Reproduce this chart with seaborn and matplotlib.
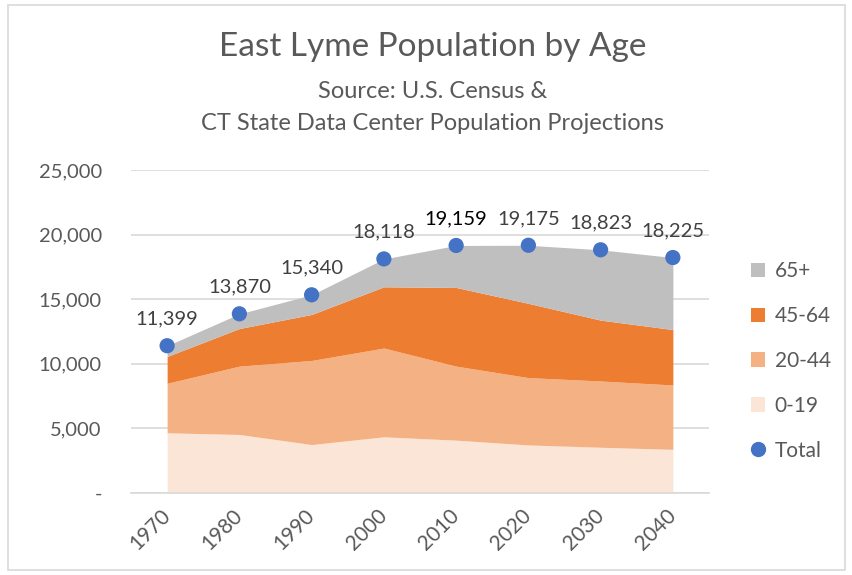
import matplotlib
matplotlib.use("Agg")
import matplotlib.pyplot as plt
import seaborn as sns
import pandas as pd
from matplotlib.patches import Patch, Rectangle
from matplotlib.lines import Line2D

years = ["1970", "1980", "1990", "2000", "2010", "2020", "2030", "2040"]
age_0_19 = [4660, 4530, 3750, 4350, 4090, 3720, 3540, 3380]
age_20_44 = [3830, 5290, 6510, 6870, 5730, 5210, 5130, 4980]
age_45_64 = [2080, 2910, 3560, 4740, 6090, 5750, 4710, 4290]
totals = [11399, 13870, 15340, 18118, 19159, 19175, 18823, 18225]
age_65_plus = [t - a - b - c for t, a, b, c in zip(totals, age_0_19, age_20_44, age_45_64)]
yticks = [0, 5000, 10000, 15000, 20000, 25000]
ytick_labels = ["-", "5,000", "10,000", "15,000", "20,000", "25,000"]
series_names = ["0-19", "20-44", "45-64", "65+"]
colors = ["#FBE5D6", "#F4B183", "#ED7D31", "#BFBFBF"]

sns.set_theme(style="white")
plt.rcParams['font.family'] = ['Lato', 'DejaVu Sans']

fig = plt.figure(figsize=(8.53, 5.75), dpi=100)
ax = fig.add_axes([131/853, (575-493)/575, (709-131)/853, (493-170)/575])

x = list(range(len(years)))
ax.stackplot(x, age_0_19, age_20_44, age_45_64, age_65_plus, colors=colors, linewidth=0)

df = pd.DataFrame({"x": x, "total": totals})
sns.scatterplot(data=df, x="x", y="total", ax=ax, color="#4472C4", s=120,
                edgecolor="none", zorder=5, legend=False)

for i, t in enumerate(totals):
    ax.annotate(f"{t:,}", (i, t), xytext=(0, 13), textcoords="offset points",
                ha="center", va="bottom", fontsize=14.5,
                color="#000000" if t == 19159 else "#404040")

ax.set_xlim(-0.5, 7.5)
ax.set_ylim(0, 25000)
ax.set_yticks(yticks)
ax.set_yticklabels(ytick_labels, fontsize=14.5, color="#595959")
ax.set_xticks(x)
ax.set_xticklabels(years, rotation=45, fontsize=15, color="#595959",
                   ha="right", va="center", rotation_mode="anchor")
ax.tick_params(axis="y", length=0, pad=21)
ax.tick_params(axis="x", length=0, pad=14)
ax.set_xlabel("")
ax.set_ylabel("")
ax.yaxis.grid(True, color="#D9D9D9", linewidth=1.2)
ax.set_axisbelow(True)
for s in ["top", "right", "left"]:
    ax.spines[s].set_visible(False)
ax.spines["bottom"].set_color("#D9D9D9")
ax.spines["bottom"].set_linewidth(1.2)

fig.text(433/853, 1 - 47/575, "East Lyme Population by Age", ha="center", va="center",
         fontsize=24, color="#595959")
fig.text(433/853, 1 - 91/575, "Source: U.S. Census &", ha="center", va="center",
         fontsize=17, color="#595959")
fig.text(433/853, 1 - 123/575, "CT State Data Center Population Projections", ha="center",
         va="center", fontsize=17, color="#595959")

handles = [Patch(facecolor=colors[3], edgecolor="none"),
           Patch(facecolor=colors[2], edgecolor="none"),
           Patch(facecolor=colors[1], edgecolor="none"),
           Patch(facecolor=colors[0], edgecolor="none"),
           Line2D([], [], marker="o", linestyle="none", color="#4472C4", markersize=10)]
labels = ["65+", "45-64", "20-44", "0-19", "Total"]
leg = fig.legend(handles, labels, loc="center left", bbox_to_anchor=(732/853, 1 - 361/575),
                 frameon=False, fontsize=15, labelspacing=1.19, handlelength=0.7,
                 handleheight=0.7, handletextpad=0.45)
for t in leg.get_texts():
    t.set_color("#595959")

fig.patches.append(Rectangle((8/853, 5/575), 837/853, 565/575, transform=fig.transFigure,
                             fill=False, edgecolor="#D9D9D9", linewidth=1.2))

fig.savefig("out.png", dpi=100)
